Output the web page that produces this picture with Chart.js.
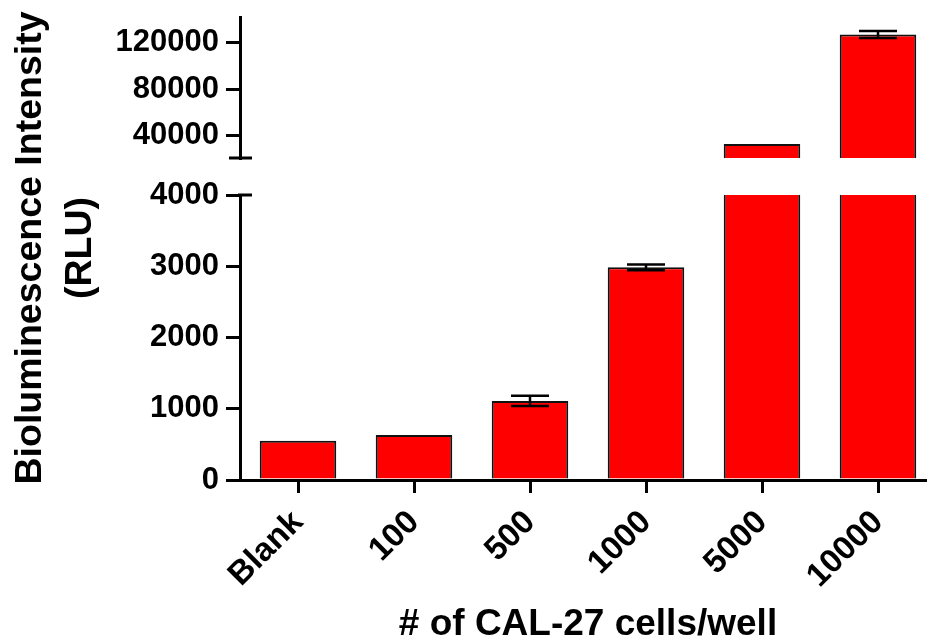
<!DOCTYPE html>
<html>
<head>
<meta charset="utf-8">
<script src="https://cdn.jsdelivr.net/npm/chart.js@4"></script>
<style>
  body { margin: 0; background: #fff; overflow: hidden; }
  #wrap { position: relative; width: 940px; height: 640px; }
  #wrap canvas { position: absolute; left: 0; top: 0; }
  #ytitle {
    position: absolute; left: 53px; top: 248px; width: 600px;
    transform: translate(-50%, -50%) rotate(-90deg);
    text-align: center; font: bold 37.5px 'Liberation Sans', Arial, sans-serif;
    line-height: 50px; color: #000; white-space: nowrap;
  }
</style>
</head>
<body>
<div id="wrap">
  <canvas id="lowChart" width="940" height="640"></canvas>
  <canvas id="highChart" width="940" height="640"></canvas>
  <div id="ytitle">Bioluminescence Intensity<br>(RLU)</div>
</div>
<script>
// ---------- data ----------
const categories = ['Blank', '100', '500', '1000', '5000', '10000'];
const means = [552, 630, 1110, 2985, 33000, 127000];
const errors = [0, 0, 72, 40, 0, 3000];
const lowTicks = [0, 1000, 2000, 3000, 4000];
const highTicks = [40000, 80000, 120000];

const FONT = "'Liberation Sans', Arial, sans-serif";
Chart.defaults.font.family = FONT;
Chart.defaults.color = '#000';

// error bars drawn through the scales of each chart
const errorBars = {
  id: 'errorBars',
  afterDatasetsDraw(chart) {
    const { ctx, chartArea, scales } = chart;
    ctx.save();
    ctx.beginPath();
    ctx.rect(chartArea.left, chartArea.top, chartArea.width, chartArea.height);
    ctx.clip();
    ctx.strokeStyle = '#000';
    ctx.lineWidth = 2.5;
    means.forEach((m, i) => {
      const e = errors[i];
      if (!e) return;
      const x = scales.x.getPixelForValue(i);
      const y1 = scales.y.getPixelForValue(m + e);
      const y2 = scales.y.getPixelForValue(m - e);
      ctx.beginPath();
      ctx.moveTo(x, y1); ctx.lineTo(x, y2);
      ctx.moveTo(x - 19, y1); ctx.lineTo(x + 19, y1);
      ctx.moveTo(x - 19, y2); ctx.lineTo(x + 19, y2);
      ctx.stroke();
    });
    ctx.restore();
  }
};

// little caps marking the axis break
const breakMarks = {
  id: 'breakMarks',
  afterDraw(chart, args, opts) {
    const { ctx, chartArea } = chart;
    ctx.save();
    ctx.strokeStyle = '#000';
    ctx.lineWidth = 3;
    ctx.beginPath();
    if (opts.where === 'bottom') {
      ctx.moveTo(chartArea.left - 11, chartArea.bottom);
      ctx.lineTo(chartArea.left + 12, chartArea.bottom);
    } else {
      ctx.moveTo(chartArea.left - 2, chartArea.top);
      ctx.lineTo(chartArea.left + 12, chartArea.top);
    }
    ctx.stroke();
    ctx.restore();
  }
};

function barDataset() {
  return {
    data: means,
    backgroundColor: '#ff0000',
    borderColor: '#111',
    borderWidth: 2,
    barPercentage: 0.66,
    categoryPercentage: 1
  };
}

function yAxis(min, max, ticks) {
  return {
    min, max,
    border: { display: true, color: '#000', width: 3 },
    grid: { drawOnChartArea: false, drawTicks: true, tickLength: 14, color: '#000', lineWidth: 3 },
    ticks: { font: { size: 31, weight: 'bold' }, padding: 7, color: '#000', callback: (v) => String(v) },
    afterBuildTicks: (s) => { s.ticks = ticks.map(v => ({ value: v })); },
    afterFit: (s) => { s.width = 240; s.paddingTop = 0; s.paddingBottom = 0; }
  };
}

// lower segment 0 - 4000
new Chart(document.getElementById('lowChart'), {
  type: 'bar',
  data: { labels: categories, datasets: [barDataset()] },
  options: {
    responsive: false,
    animation: false,
    layout: { padding: { top: 195, right: 4, left: 0, bottom: 0 } },
    plugins: { legend: { display: false }, tooltip: { enabled: false }, breakMarks: { where: 'top' } },
    scales: {
      x: {
        border: { display: true, color: '#000', width: 3 },
        grid: { offset: false, drawOnChartArea: false, drawTicks: true, tickLength: 13, color: '#000', lineWidth: 3 },
        ticks: { font: { size: 33, weight: 'bold' }, minRotation: 45, maxRotation: 45, padding: 10, color: '#000' },
        title: {
          display: true, text: '# of CAL-27 cells/well', color: '#000',
          font: { size: 37, weight: 'bold', lineHeight: 0.8 }, padding: { top: 0, bottom: 0 }
        },
        afterFit: (s) => { s.height = 160; }
      },
      y: yAxis(0, 4000, lowTicks)
    }
  },
  plugins: [errorBars, breakMarks]
});

// upper segment 21000 - 142000
new Chart(document.getElementById('highChart'), {
  type: 'bar',
  data: { labels: categories, datasets: [barDataset()] },
  options: {
    responsive: false,
    animation: false,
    layout: { padding: { top: 17, right: 4, left: 0, bottom: 482 } },
    plugins: { legend: { display: false }, tooltip: { enabled: false }, breakMarks: { where: 'bottom' } },
    scales: {
      x: { display: false },
      y: yAxis(21000, 142000, highTicks)
    }
  },
  plugins: [errorBars, breakMarks]
});
</script>
</body>
</html>
